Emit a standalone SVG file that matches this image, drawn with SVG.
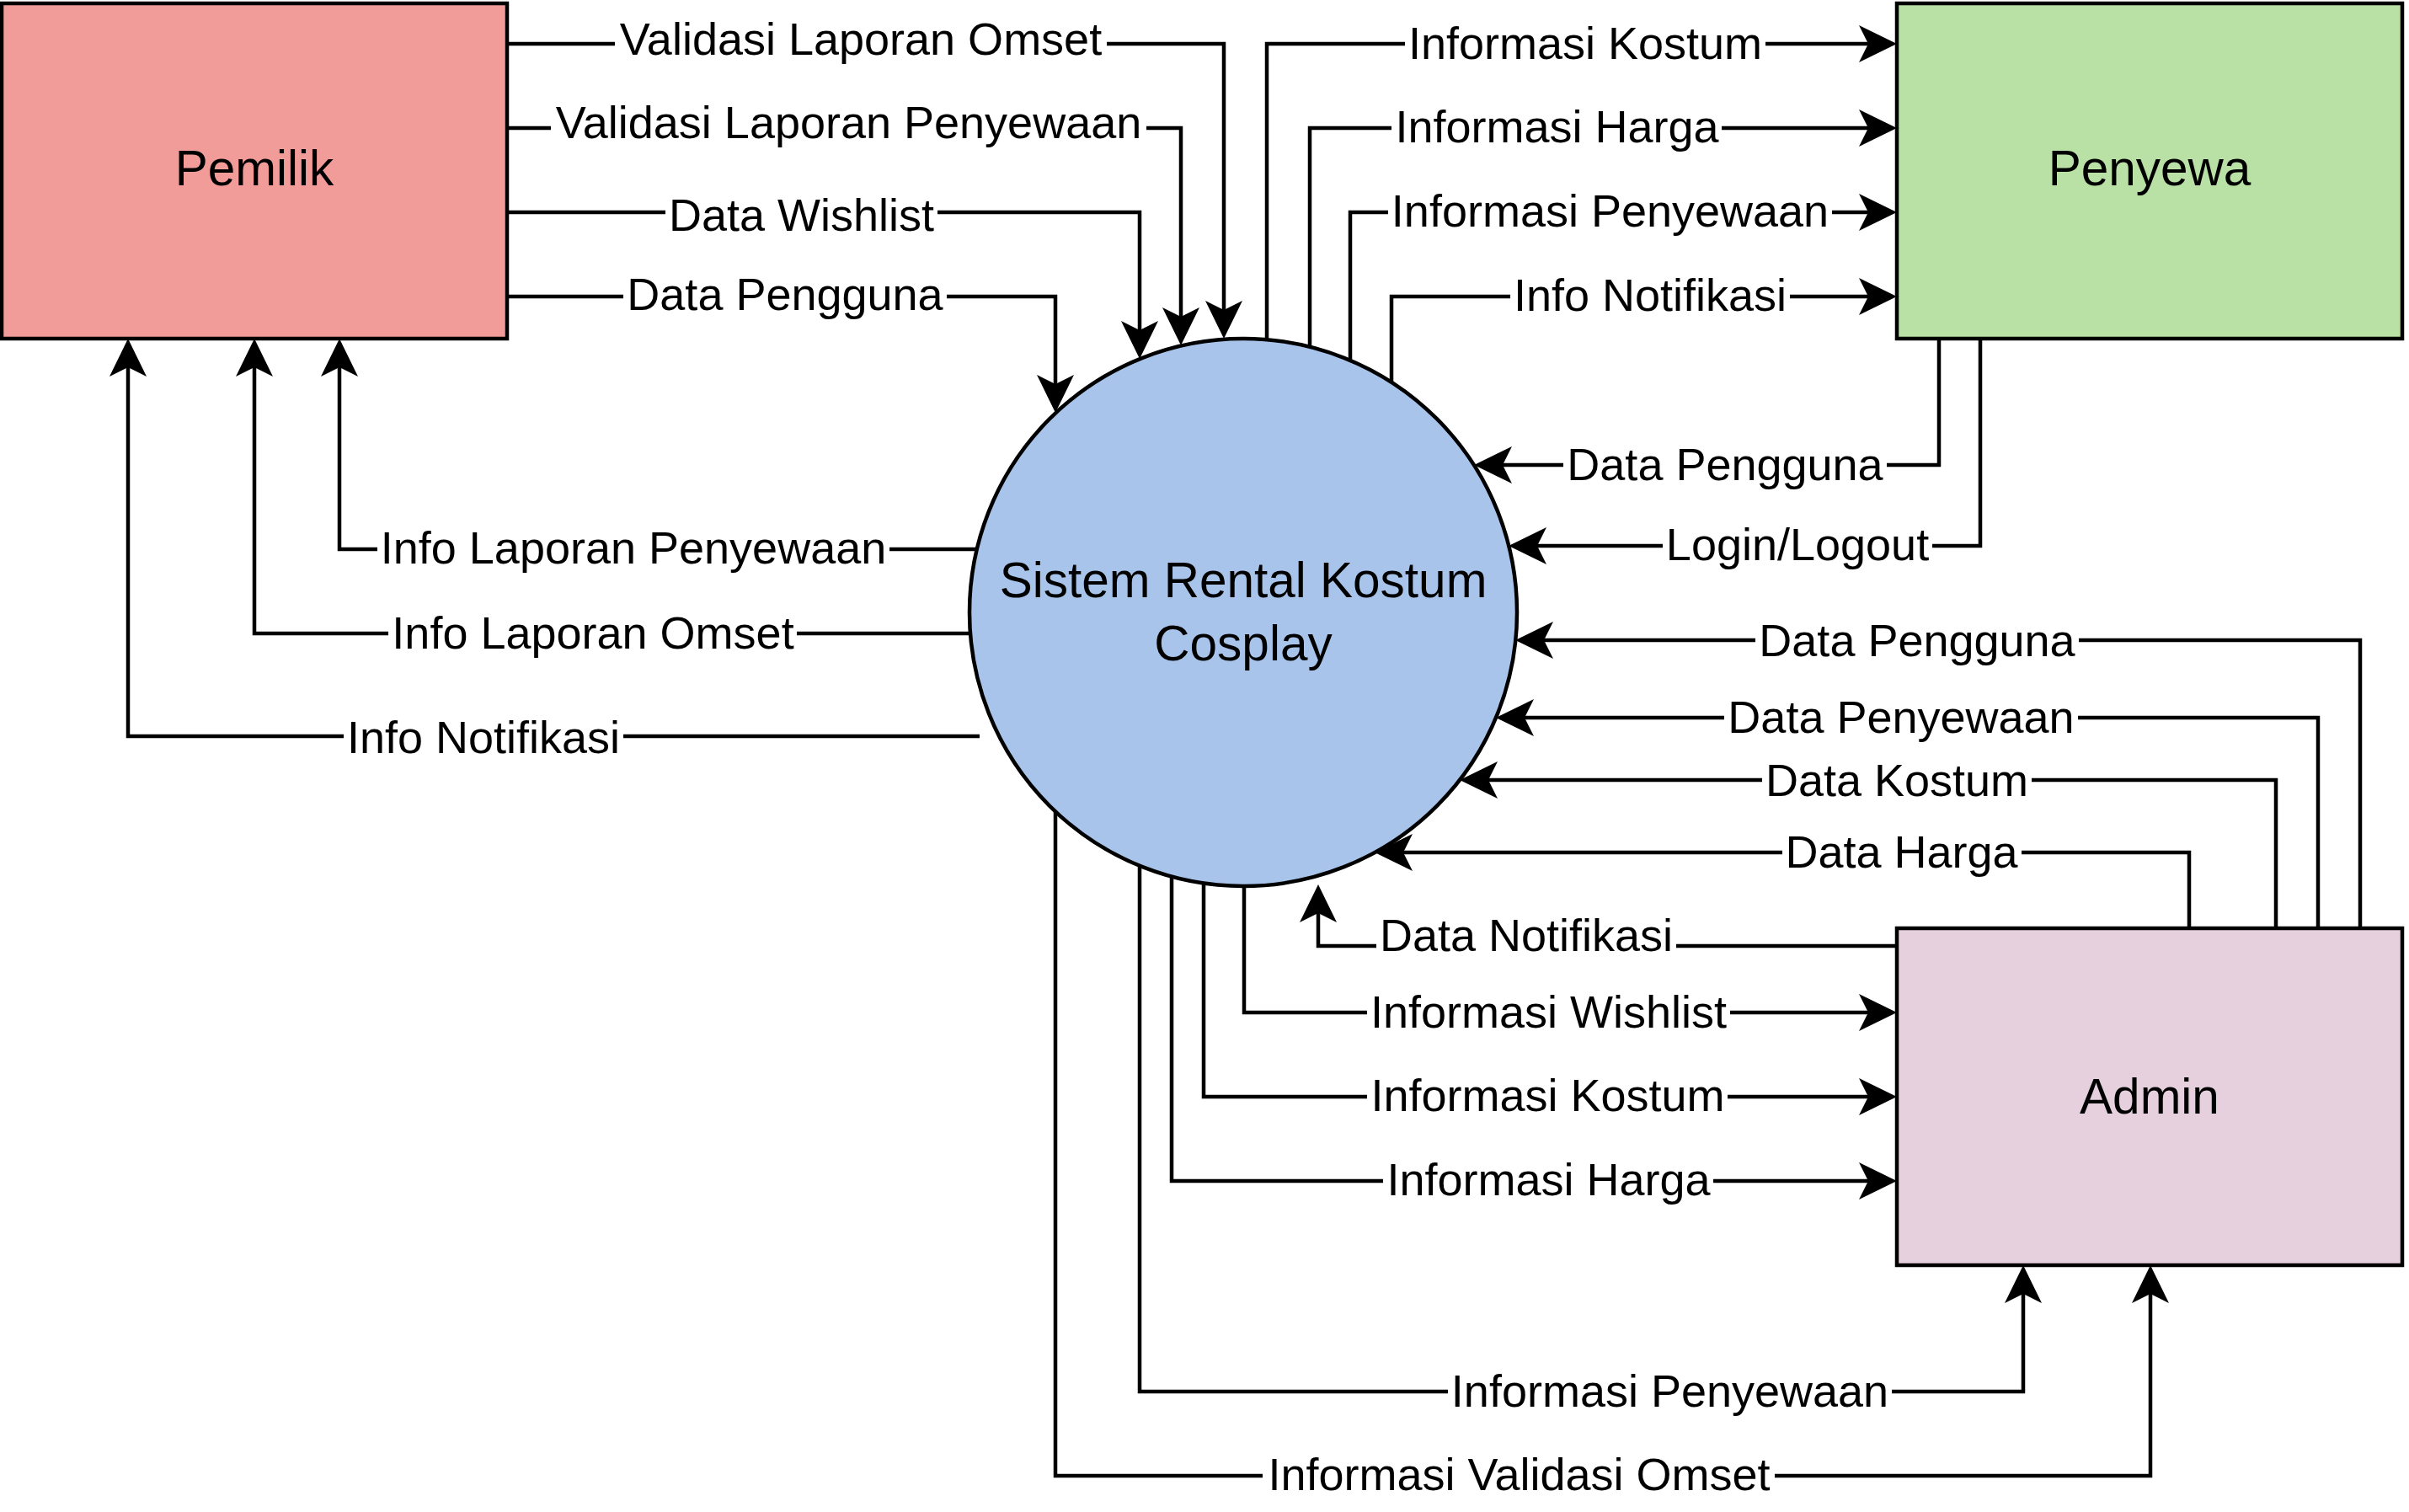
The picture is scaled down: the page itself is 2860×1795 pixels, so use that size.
<svg xmlns="http://www.w3.org/2000/svg" width="2860" height="1795" viewBox="0 0 2860 1795">
<style>
.node{stroke:#000;stroke-width:4.5}
.nl{font-family:"Liberation Sans",Arial,Helvetica,sans-serif;font-size:58.5px;fill:#000;text-anchor:middle}
.c path{fill:none;stroke:#000;stroke-width:4.5;marker-end:url(#arr)}
.c rect{fill:#fff}
.c text{font-family:"Liberation Sans",Arial,Helvetica,sans-serif;font-size:54px;fill:#000;text-anchor:middle}
</style>
<defs>
<marker id="arr" markerUnits="userSpaceOnUse" markerWidth="60" markerHeight="60" viewBox="-50 -30 60 60" refX="-20" refY="0" orient="auto" overflow="visible">
<path d="M0,0 L-45,-22 L-34,0 L-45,22 Z" fill="#000"/>
</marker>
</defs>
<rect width="2860" height="1795" fill="#fff"/>
<g id="pemilik"><rect class="node" x="2" y="4" width="600" height="398" fill="#F19C99"/><text class="nl" x="302" y="220">Pemilik</text></g>
<g id="penyewa"><rect class="node" x="2252" y="4" width="600" height="398" fill="#B9E0A5"/><text class="nl" x="2552" y="220">Penyewa</text></g>
<g id="admin"><rect class="node" x="2252" y="1102" width="600" height="400" fill="#E6D0DE"/><text class="nl" x="2552" y="1322">Admin</text></g>
<g id="sistem"><circle class="node" cx="1476" cy="727" r="325" fill="#A9C4EB"/><text class="nl" x="1476" y="709">Sistem Rental Kostum</text><text class="nl" x="1476" y="784">Cosplay</text></g>
<g id="connectors" class="c">
<g><path d="M602,52 H1453 V382"/><rect x="730" y="19" width="584" height="60"/><text x="1022" y="65">Validasi Laporan Omset</text></g>
<g><path d="M602,152 H1402 V390"/><rect x="654" y="118" width="707" height="60"/><text x="1007.5" y="164">Validasi Laporan Penyewaan</text></g>
<g><path d="M602,252 H1353 V406"/><rect x="790" y="228" width="323" height="60"/><text x="951.5" y="274">Data Wishlist</text></g>
<g><path d="M602,352 H1253 V470"/><rect x="740" y="322" width="384" height="60"/><text x="932" y="368">Data Pengguna</text></g>
<g><path d="M1160,652 H403 V422"/><rect x="448" y="623" width="608" height="60"/><text x="752" y="669">Info Laporan Penyewaan</text></g>
<g><path d="M1152,752 H302 V422"/><rect x="461" y="724" width="485" height="60"/><text x="704" y="770">Info Laporan Omset</text></g>
<g><path d="M1163,874 H152 V422"/><rect x="408" y="848" width="332" height="60"/><text x="574" y="894">Info Notifikasi</text></g>
<g><path d="M1504,403 V52 H2232"/><rect x="1668" y="24" width="428" height="60"/><text x="1882" y="70">Informasi Kostum</text></g>
<g><path d="M1555,412 V152 H2232"/><rect x="1652" y="123" width="392" height="60"/><text x="1848.5" y="169">Informasi Harga</text></g>
<g><path d="M1603,428 V252 H2232"/><rect x="1648" y="223" width="527" height="60"/><text x="1911.5" y="269">Informasi Penyewaan</text></g>
<g><path d="M1652,454 V352 H2232"/><rect x="1793" y="323" width="332" height="60"/><text x="1959" y="369">Info Notifikasi</text></g>
<g><path d="M2302,402 V552 H1770"/><rect x="1856" y="524" width="384" height="60"/><text x="2048" y="570">Data Pengguna</text></g>
<g><path d="M2351,402 V648 H1811"/><rect x="1974" y="619" width="320" height="60"/><text x="2134" y="665">Login/Logout</text></g>
<g><path d="M2802,1102 V760 H1819"/><rect x="2084" y="733" width="384" height="60"/><text x="2276" y="779">Data Pengguna</text></g>
<g><path d="M2752,1102 V852 H1796"/><rect x="2047" y="824" width="420" height="60"/><text x="2257" y="870">Data Penyewaan</text></g>
<g><path d="M2702,1102 V926 H1753"/><rect x="2092" y="899" width="320" height="60"/><text x="2252" y="945">Data Kostum</text></g>
<g><path d="M2599,1102 V1012 H1652"/><rect x="2116" y="984" width="284" height="60"/><text x="2257.5" y="1030">Data Harga</text></g>
<g><path d="M2252,1123 H1565 V1070"/><rect x="1634" y="1083" width="356" height="60"/><text x="1812" y="1129">Data Notifikasi</text></g>
<g><path d="M1477,1052 V1202 H2232"/><rect x="1623" y="1174" width="431" height="60"/><text x="1838.5" y="1220">Informasi Wishlist</text></g>
<g><path d="M1429,1049 V1302 H2232"/><rect x="1623" y="1273" width="428" height="60"/><text x="1837.5" y="1319">Informasi Kostum</text></g>
<g><path d="M1391,1041 V1402 H2232"/><rect x="1642" y="1373" width="392" height="60"/><text x="1838.5" y="1419">Informasi Harga</text></g>
<g><path d="M1353,1028 V1652 H2402 V1522"/><rect x="1719" y="1624" width="527" height="60"/><text x="1982.5" y="1670">Informasi Penyewaan</text></g>
<g><path d="M1253,964 V1752 H2553 V1522"/><rect x="1499" y="1723" width="608" height="60"/><text x="1803.5" y="1769">Informasi Validasi Omset</text></g>
</g>
</svg>
